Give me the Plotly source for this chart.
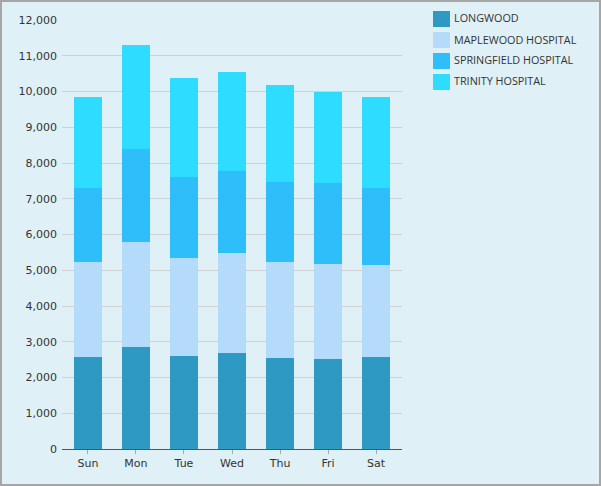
import plotly.graph_objects as go

days = ["Sun", "Mon", "Tue", "Wed", "Thu", "Fri", "Sat"]
longwood = [2580, 2840, 2600, 2680, 2550, 2520, 2570]
maplewood = [2650, 2960, 2740, 2800, 2685, 2650, 2570]
springfield = [2080, 2580, 2275, 2290, 2230, 2260, 2160]
trinity = [2525, 2920, 2775, 2775, 2705, 2555, 2555]

series = [
    ("LONGWOOD", longwood, "#2E9AC3"),
    ("MAPLEWOOD HOSPITAL", maplewood, "#B4DCFA"),
    ("SPRINGFIELD HOSPITAL", springfield, "#2EBEFA"),
    ("TRINITY HOSPITAL", trinity, "#2EDCFF"),
]

PL, PR, PT, PB = 62, 402, 20, 449
PW, PH = PR - PL, PB - PT


def px_x(p):
    return (p - PL) / PW


def px_y(p):
    return (PB - p) / PH


fig = go.Figure()
for name, vals, col in series:
    fig.add_trace(go.Bar(x=days, y=vals, name=name, marker=dict(color=col, line=dict(width=0)),
                         showlegend=False))

# custom legend (square swatches + labels)
for i, (name, vals, col) in enumerate(series):
    top = 11 + 21 * i
    fig.add_shape(type="rect", xref="paper", yref="paper",
                  x0=px_x(433), x1=px_x(450), y0=px_y(top + 16), y1=px_y(top),
                  fillcolor=col, line=dict(width=0))
    fig.add_annotation(xref="paper", yref="paper", x=px_x(452), y=px_y(top + 7),
                       text=name, showarrow=False, xanchor="left", yanchor="middle",
                       font=dict(family="Open Sans", size=10.8, color="#333333"))

fig.update_layout(
    barmode="stack",
    width=601, height=486,
    margin=dict(l=PL, r=601 - PR, t=PT, b=486 - PB),
    paper_bgcolor="#E0F0F7",
    plot_bgcolor="#E0F0F7",
    bargap=0.4167,
    font=dict(family="DejaVu Sans", size=11, color="#333333"),
    showlegend=False,
)
fig.update_xaxes(
    range=[-0.54, 6.54], showgrid=False, showline=True, linecolor="#555555", linewidth=1,
    ticks="outside", ticklen=4, tickcolor="#AAAAAA", tickfont=dict(size=11, color="#333333"),
)
fig.update_yaxes(
    range=[0, 12000], dtick=1000, tickformat=",", showgrid=True, gridcolor="#D0D0D0",
    gridwidth=1, zeroline=False, ticks="", tickfont=dict(size=11, color="#333333"),
    ticklabelstandoff=4,
)
fig.add_shape(type="rect", xref="paper", yref="paper",
              x0=px_x(1), x1=px_x(600), y0=px_y(485), y1=px_y(1),
              line=dict(color="#A6A6A6", width=2), fillcolor="rgba(0,0,0,0)", layer="above")

fig.write_html("out.html", config={"displayModeBar": False},
               post_script="document.body.style.margin='0';document.body.style.padding='0';")
